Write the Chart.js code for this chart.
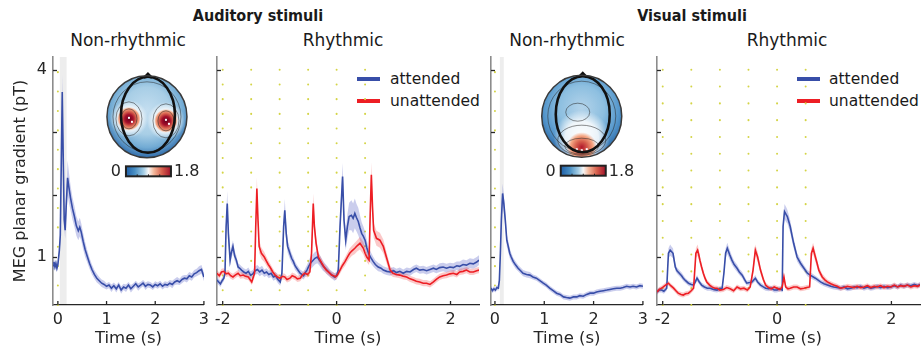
<!DOCTYPE html>
<html>
<head>
<meta charset="utf-8">
<script src="https://cdn.jsdelivr.net/npm/chart.js@4.4.0/dist/chart.umd.min.js"></script>
<style>
  body { margin: 0; width: 922px; height: 352px; position: relative; overflow: hidden; background: #fff;
         font-family: "DejaVu Sans", sans-serif; color: #1a1a1a; }
  canvas { position: absolute; top: 0; }
  .t { position: absolute; white-space: nowrap; line-height: 1; transform: translate(-50%, -50%); }
  .h { font-weight: bold; font-size: 16px; font-family: "DejaVu Sans Condensed", "DejaVu Sans"; font-stretch: condensed; }
  .s { font-size: 17px; }
  .lg { position: absolute; font-size: 15.5px; line-height: 18px; white-space: nowrap; }
  .ln { position: absolute; width: 23px; height: 4px; }
</style>
</head>
<body>
<div class="t h" style="left:258px;top:16px">Auditory stimuli</div>
<div class="t h" style="left:692px;top:16px">Visual stimuli</div>
<div class="t s" style="left:128px;top:40px">Non-rhythmic</div>
<div class="t s" style="left:343px;top:40px">Rhythmic</div>
<div class="t s" style="left:567px;top:40px">Non-rhythmic</div>
<div class="t s" style="left:787px;top:40px">Rhythmic</div>

<div class="ln" style="left:357px;top:77px;background:rgb(56,78,168)"></div>
<div class="lg" style="left:390px;top:70px">attended</div>
<div class="ln" style="left:357px;top:99px;background:rgb(237,30,36)"></div>
<div class="lg" style="left:390px;top:92px">unattended</div>
<div class="ln" style="left:797px;top:77px;background:rgb(56,78,168)"></div>
<div class="lg" style="left:829px;top:70px">attended</div>
<div class="ln" style="left:797px;top:99px;background:rgb(237,30,36)"></div>
<div class="lg" style="left:829px;top:92px">unattended</div>

<canvas id="p1" width="214" height="352" style="left:0px"></canvas>
<canvas id="p2" width="290" height="352" style="left:200px"></canvas>
<canvas id="p3" width="178" height="352" style="left:475px"></canvas>
<canvas id="p4" width="282" height="352" style="left:640px"></canvas>

<script>
const BLUE = 'rgb(56,78,168)'
const RED = 'rgb(237,30,36)'
const BLUE_BAND = 'rgba(90,100,200,0.32)'
const RED_BAND = 'rgba(240,60,60,0.28)'
const DOT = 'rgb(212,212,70)'
const TXT = '#262626'

// y ticks shared by every panel, only 1 and 4 get a label
const yTicks = [1, 2, 3, 4]
const yLabelled = [1, 4]
const xTicksNonRhythmic = [0, 1, 2, 3]
const xTicksRhythmic = [-2, 0, 2]

// stimulus onsets (s) and grey stimulus windows
const cuesNonRhythmic = [0]
const cuesRhythmic = [-2, -1.5, -1, -0.5, 0, 0.5]
const audWindow = [0.04, 0.18]
const visWindow = [0.1, 0.18]

// rows are [time (s), mean (pT), sem]
const audNonRhythmic = [
  [-0.1,0.86,0.06],[-0.08,0.92,0.06],[-0.06,0.84,0.06],[-0.04,0.9,0.06],[-0.02,0.82,0.06],[0,0.88,0.06],
  [0.03,1.1,0.08],[0.05,1.35,0.12],[0.07,2.5,0.2],[0.09,3.65,0.28],[0.11,2.6,0.22],[0.13,1.6,0.14],
  [0.15,1.43,0.14],[0.17,1.8,0.2],[0.2,2.27,0.28],[0.23,2.1,0.24],[0.26,1.95,0.2],[0.3,1.78,0.18],
  [0.34,1.65,0.17],[0.38,1.5,0.16],[0.42,1.42,0.15],[0.45,1.48,0.15],[0.48,1.4,0.14],[0.52,1.25,0.13],
  [0.56,1.12,0.12],[0.6,1.02,0.1],[0.65,0.9,0.09],[0.7,0.8,0.08],[0.75,0.72,0.07],[0.8,0.66,0.07],
  [0.85,0.62,0.06],[0.9,0.58,0.06],[0.95,0.56,0.06],[1,0.53,0.05],[1.05,0.55,0.05],[1.1,0.5,0.06],
  [1.15,0.54,0.05],[1.2,0.49,0.06],[1.25,0.55,0.05],[1.3,0.47,0.06],[1.35,0.52,0.05],[1.4,0.5,0.06],
  [1.45,0.55,0.05],[1.5,0.49,0.06],[1.55,0.53,0.05],[1.6,0.57,0.05],[1.65,0.52,0.06],[1.7,0.55,0.05],
  [1.75,0.58,0.05],[1.8,0.53,0.06],[1.85,0.56,0.05],[1.9,0.55,0.05],[1.95,0.52,0.05],[2,0.56,0.05],
  [2.05,0.54,0.05],[2.1,0.57,0.05],[2.15,0.53,0.05],[2.2,0.56,0.05],[2.25,0.55,0.05],[2.3,0.58,0.05],
  [2.35,0.56,0.06],[2.4,0.6,0.05],[2.45,0.62,0.06],[2.5,0.6,0.05],[2.55,0.64,0.06],[2.6,0.66,0.05],
  [2.65,0.65,0.06],[2.7,0.7,0.06],[2.75,0.68,0.06],[2.8,0.73,0.06],[2.85,0.75,0.06],[2.9,0.78,0.07],
  [2.95,0.8,0.07],[3,0.68,0.07]
]

const audRhythmicAttended = [
  [-2.1,0.63,0.05],[-2.07,0.6,0.05],[-2.04,0.57,0.05],[-2.01,0.62,0.05],[-1.98,0.66,0.05],[-1.96,0.74,0.07],
  [-1.94,1.49,0.15],[-1.92,1.86,0.2],[-1.9,1.38,0.15],[-1.87,0.95,0.1],[-1.85,1.06,0.1],[-1.82,1.17,0.1],
  [-1.79,1.02,0.08],[-1.76,0.95,0.07],[-1.73,0.84,0.06],[-1.7,0.82,0.06],[-1.67,0.79,0.06],[-1.63,0.76,0.06],
  [-1.59,0.74,0.06],[-1.55,0.77,0.06],[-1.51,0.71,0.06],[-1.47,0.73,0.06],[-1.43,0.78,0.07],[-1.39,0.8,0.07],
  [-1.35,0.76,0.07],[-1.31,0.79,0.07],[-1.27,0.74,0.06],[-1.23,0.76,0.06],[-1.19,0.72,0.06],[-1.15,0.74,0.06],
  [-1.11,0.68,0.06],[-1.07,0.7,0.06],[-1.03,0.64,0.06],[-0.99,0.6,0.06],[-0.96,0.74,0.07],[-0.93,1.49,0.14],
  [-0.91,1.75,0.18],[-0.885,1.38,0.14],[-0.86,1.17,0.1],[-0.82,1.06,0.09],[-0.79,0.98,0.08],[-0.76,0.93,0.07],
  [-0.73,0.86,0.07],[-0.7,0.82,0.06],[-0.67,0.78,0.06],[-0.64,0.74,0.06],[-0.61,0.72,0.06],[-0.58,0.7,0.06],
  [-0.55,0.75,0.07],[-0.52,0.79,0.08],[-0.49,0.85,0.09],[-0.46,0.9,0.1],[-0.42,0.94,0.1],[-0.38,0.98,0.1],
  [-0.34,1,0.1],[-0.31,0.96,0.09],[-0.28,0.92,0.09],[-0.24,0.86,0.08],[-0.2,0.82,0.07],[-0.16,0.78,0.07],
  [-0.12,0.74,0.06],[-0.08,0.71,0.06],[-0.04,0.68,0.06],[0,0.7,0.06],[0.03,0.79,0.08],[0.06,1.49,0.16],
  [0.105,2.29,0.22],[0.13,1.59,0.18],[0.16,1.27,0.16],[0.19,1.49,0.2],[0.22,1.65,0.22],[0.26,1.67,0.24],
  [0.29,1.62,0.24],[0.32,1.7,0.24],[0.35,1.63,0.22],[0.38,1.57,0.22],[0.41,1.47,0.2],[0.44,1.38,0.18],
  [0.47,1.33,0.16],[0.5,1.27,0.14],[0.53,1.15,0.12],[0.56,1.06,0.1],[0.6,0.99,0.09],[0.64,0.93,0.08],
  [0.68,0.88,0.07],[0.73,0.84,0.07],[0.78,0.82,0.06],[0.82,0.79,0.06],[0.88,0.77,0.06],[0.94,0.76,0.06],
  [1,0.78,0.06],[1.05,0.75,0.06],[1.11,0.77,0.06],[1.17,0.74,0.06],[1.23,0.77,0.06],[1.29,0.76,0.06],
  [1.35,0.8,0.06],[1.4,0.82,0.06],[1.46,0.79,0.06],[1.52,0.8,0.06],[1.58,0.78,0.06],[1.64,0.8,0.06],
  [1.7,0.82,0.06],[1.75,0.8,0.06],[1.81,0.83,0.07],[1.87,0.84,0.07],[1.93,0.82,0.07],[1.99,0.84,0.07],
  [2.05,0.83,0.07],[2.11,0.86,0.07],[2.16,0.85,0.08],[2.22,0.88,0.08],[2.28,0.87,0.08],[2.34,0.9,0.08],
  [2.4,0.89,0.08],[2.46,0.92,0.08],[2.5,0.95,0.08]
]

const audRhythmicUnattended = [
  [-2.1,0.74,0.05],[-2.06,0.7,0.05],[-2.02,0.76,0.05],[-1.98,0.77,0.05],[-1.94,0.73,0.05],[-1.9,0.74,0.05],
  [-1.86,0.7,0.05],[-1.82,0.68,0.05],[-1.78,0.71,0.05],[-1.73,0.74,0.05],[-1.69,0.7,0.05],[-1.64,0.71,0.05],
  [-1.6,0.69,0.05],[-1.55,0.68,0.05],[-1.52,0.64,0.05],[-1.49,0.6,0.05],[-1.44,0.74,0.07],[-1.42,1.49,0.14],
  [-1.4,2.1,0.18],[-1.38,1.59,0.14],[-1.36,1.17,0.1],[-1.32,1.06,0.09],[-1.27,1,0.08],[-1.23,0.93,0.07],
  [-1.2,0.88,0.07],[-1.17,0.84,0.06],[-1.12,0.76,0.06],[-1.08,0.71,0.05],[-1.04,0.68,0.05],[-0.99,0.66,0.05],
  [-0.95,0.69,0.05],[-0.91,0.68,0.05],[-0.87,0.64,0.05],[-0.82,0.66,0.05],[-0.78,0.7,0.05],[-0.73,0.68,0.05],
  [-0.69,0.65,0.05],[-0.64,0.66,0.05],[-0.6,0.71,0.05],[-0.56,0.74,0.05],[-0.51,0.72,0.05],[-0.47,0.76,0.06],
  [-0.44,1.06,0.1],[-0.41,1.86,0.16],[-0.39,1.49,0.14],[-0.36,1.22,0.1],[-0.32,1,0.08],[-0.29,0.95,0.07],
  [-0.26,0.9,0.07],[-0.22,0.84,0.06],[-0.18,0.79,0.06],[-0.13,0.75,0.05],[-0.09,0.71,0.05],[-0.05,0.7,0.05],
  [-0.02,0.68,0.05],[0.02,0.72,0.05],[0.06,0.79,0.06],[0.1,0.86,0.06],[0.15,0.93,0.07],[0.19,1,0.07],
  [0.23,1.06,0.08],[0.27,1.1,0.08],[0.32,1.14,0.09],[0.36,1.18,0.09],[0.41,1.22,0.1],[0.44,1.18,0.1],
  [0.47,1.14,0.1],[0.5,1.06,0.09],[0.53,1,0.08],[0.57,0.95,0.08],[0.59,1.7,0.16],[0.61,2.32,0.2],
  [0.63,1.81,0.16],[0.65,1.43,0.12],[0.7,1.3,0.12],[0.76,1.27,0.12],[0.82,1.17,0.11],[0.88,0.98,0.09],
  [0.94,0.79,0.07],[0.99,0.74,0.06],[1.05,0.72,0.05],[1.11,0.71,0.05],[1.17,0.69,0.05],[1.23,0.68,0.05],
  [1.29,0.65,0.05],[1.35,0.63,0.05],[1.4,0.61,0.05],[1.46,0.6,0.05],[1.52,0.58,0.05],[1.58,0.58,0.05],
  [1.64,0.56,0.05],[1.7,0.6,0.05],[1.75,0.64,0.05],[1.81,0.68,0.05],[1.87,0.7,0.05],[1.93,0.71,0.05],
  [1.99,0.73,0.05],[2.05,0.74,0.05],[2.11,0.72,0.05],[2.16,0.76,0.05],[2.22,0.77,0.05],[2.28,0.79,0.05],
  [2.34,0.76,0.05],[2.4,0.76,0.05],[2.46,0.78,0.05],[2.5,0.79,0.05]
]

const visNonRhythmic = [
  [-0.08,0.5,0.04],[-0.05,0.46,0.04],[-0.02,0.49,0.04],[0.01,0.47,0.04],[0.04,0.51,0.04],[0.07,0.5,0.04],
  [0.09,0.63,0.05],[0.11,1.06,0.08],[0.13,1.59,0.12],[0.155,2.02,0.16],[0.18,1.86,0.14],[0.21,1.59,0.12],
  [0.24,1.27,0.1],[0.27,1.17,0.09],[0.3,1.06,0.08],[0.33,1,0.07],[0.37,0.93,0.06],[0.42,0.87,0.06],
  [0.47,0.82,0.05],[0.52,0.78,0.05],[0.57,0.74,0.05],[0.64,0.72,0.05],[0.71,0.71,0.05],[0.77,0.68,0.04],
  [0.84,0.66,0.04],[0.91,0.62,0.04],[0.98,0.58,0.04],[1.04,0.55,0.04],[1.11,0.5,0.04],[1.18,0.46,0.04],
  [1.25,0.42,0.04],[1.32,0.4,0.04],[1.39,0.36,0.04],[1.45,0.35,0.04],[1.52,0.34,0.04],[1.59,0.36,0.04],
  [1.66,0.36,0.04],[1.72,0.38,0.04],[1.79,0.37,0.04],[1.86,0.4,0.04],[1.93,0.42,0.04],[2,0.42,0.04],
  [2.06,0.44,0.04],[2.13,0.45,0.04],[2.2,0.46,0.04],[2.27,0.47,0.04],[2.33,0.48,0.04],[2.4,0.49,0.04],
  [2.47,0.5,0.04],[2.54,0.5,0.04],[2.6,0.51,0.04],[2.67,0.53,0.04],[2.74,0.52,0.04],[2.8,0.53,0.04],
  [2.87,0.52,0.04],[2.94,0.54,0.04],[3,0.53,0.04]
]

const visRhythmicAttended = [
  [-2.1,0.44,0.04],[-2.06,0.47,0.04],[-2.02,0.47,0.04],[-1.98,0.45,0.04],[-1.93,0.5,0.04],[-1.9,1.06,0.08],
  [-1.87,1.11,0.09],[-1.84,1.08,0.08],[-1.82,1.06,0.08],[-1.78,0.84,0.06],[-1.75,0.78,0.05],[-1.71,0.74,0.05],
  [-1.67,0.7,0.05],[-1.64,0.66,0.05],[-1.6,0.62,0.04],[-1.55,0.58,0.04],[-1.5,0.56,0.04],[-1.46,0.55,0.04],
  [-1.43,0.6,0.04],[-1.4,0.66,0.05],[-1.36,0.6,0.04],[-1.32,0.55,0.04],[-1.27,0.52,0.04],[-1.22,0.5,0.04],
  [-1.17,0.5,0.04],[-1.11,0.48,0.04],[-1.05,0.47,0.04],[-1,0.49,0.04],[-0.96,0.5,0.04],[-0.93,0.74,0.06],
  [-0.9,1.06,0.08],[-0.87,1.14,0.09],[-0.83,1.04,0.08],[-0.79,0.95,0.07],[-0.75,0.88,0.06],[-0.7,0.82,0.06],
  [-0.66,0.76,0.05],[-0.61,0.71,0.05],[-0.57,0.64,0.05],[-0.53,0.58,0.04],[-0.48,0.59,0.04],[-0.44,0.6,0.04],
  [-0.38,0.66,0.05],[-0.34,0.6,0.04],[-0.29,0.55,0.04],[-0.24,0.52,0.04],[-0.2,0.5,0.04],[-0.15,0.49,0.04],
  [-0.1,0.5,0.04],[-0.05,0.47,0.04],[0,0.47,0.04],[0.05,0.49,0.04],[0.09,0.47,0.04],[0.105,1.49,0.1],
  [0.13,1.73,0.12],[0.16,1.68,0.12],[0.18,1.65,0.11],[0.23,1.49,0.1],[0.26,1.35,0.09],[0.29,1.22,0.08],
  [0.35,1,0.07],[0.41,0.9,0.06],[0.47,0.82,0.05],[0.53,0.74,0.05],[0.58,0.71,0.05],[0.67,0.66,0.04],
  [0.76,0.6,0.04],[0.82,0.57,0.04],[0.88,0.55,0.04],[0.94,0.53,0.04],[0.99,0.52,0.04],[1.05,0.51,0.04],
  [1.11,0.5,0.04],[1.17,0.52,0.04],[1.23,0.49,0.04],[1.29,0.5,0.04],[1.35,0.52,0.04],[1.4,0.51,0.04],
  [1.46,0.53,0.04],[1.52,0.5,0.04],[1.58,0.52,0.04],[1.64,0.5,0.04],[1.7,0.51,0.04],[1.75,0.53,0.04],
  [1.81,0.51,0.04],[1.87,0.53,0.04],[1.93,0.51,0.04],[1.99,0.52,0.04],[2.05,0.54,0.04],[2.11,0.52,0.04],
  [2.16,0.55,0.04],[2.22,0.53,0.04],[2.28,0.55,0.04],[2.34,0.54,0.04],[2.4,0.56,0.04],[2.46,0.54,0.04],
  [2.5,0.56,0.04]
]

const visRhythmicUnattended = [
  [-2.1,0.44,0.04],[-2.06,0.48,0.04],[-2.02,0.5,0.04],[-1.99,0.52,0.04],[-1.95,0.55,0.04],[-1.9,0.58,0.04],
  [-1.86,0.54,0.04],[-1.81,0.5,0.04],[-1.77,0.46,0.04],[-1.73,0.42,0.04],[-1.68,0.4,0.04],[-1.64,0.39,0.04],
  [-1.6,0.41,0.04],[-1.55,0.42,0.04],[-1.51,0.45,0.04],[-1.46,0.5,0.04],[-1.42,1.06,0.08],[-1.39,1.11,0.09],
  [-1.37,1.04,0.08],[-1.35,0.95,0.07],[-1.32,0.84,0.06],[-1.29,0.74,0.05],[-1.26,0.66,0.05],[-1.23,0.6,0.04],
  [-1.18,0.55,0.04],[-1.14,0.52,0.04],[-1.09,0.5,0.04],[-1.05,0.5,0.04],[-1,0.47,0.04],[-0.94,0.48,0.04],
  [-0.88,0.51,0.04],[-0.82,0.49,0.04],[-0.76,0.46,0.04],[-0.7,0.52,0.04],[-0.64,0.49,0.04],[-0.58,0.5,0.04],
  [-0.52,0.47,0.04],[-0.47,0.52,0.04],[-0.42,0.79,0.07],[-0.38,1.11,0.09],[-0.34,1,0.08],[-0.29,0.79,0.06],
  [-0.24,0.64,0.05],[-0.2,0.55,0.04],[-0.15,0.51,0.04],[-0.1,0.49,0.04],[-0.05,0.52,0.04],[0,0.5,0.04],
  [0.05,0.48,0.04],[0.09,0.52,0.04],[0.12,0.68,0.05],[0.15,0.52,0.04],[0.19,0.49,0.04],[0.23,0.5,0.04],
  [0.29,0.52,0.04],[0.35,0.52,0.04],[0.41,0.49,0.04],[0.47,0.5,0.04],[0.52,0.51,0.04],[0.57,0.52,0.04],
  [0.6,1.06,0.08],[0.63,1.14,0.09],[0.67,1,0.08],[0.7,0.9,0.07],[0.73,0.79,0.06],[0.79,0.68,0.05],
  [0.84,0.63,0.05],[0.88,0.6,0.04],[0.94,0.57,0.04],[0.99,0.55,0.04],[1.05,0.53,0.04],[1.11,0.5,0.04],
  [1.17,0.51,0.04],[1.23,0.53,0.04],[1.29,0.52,0.04],[1.35,0.51,0.04],[1.4,0.53,0.04],[1.46,0.51,0.04],
  [1.52,0.52,0.04],[1.58,0.54,0.04],[1.64,0.51,0.04],[1.7,0.53,0.04],[1.75,0.52,0.04],[1.81,0.54,0.04],
  [1.87,0.51,0.04],[1.93,0.53,0.04],[1.99,0.52,0.04],[2.05,0.55,0.04],[2.11,0.52,0.04],[2.16,0.54,0.04],
  [2.22,0.53,0.04],[2.28,0.55,0.04],[2.34,0.52,0.04],[2.4,0.54,0.04],[2.46,0.53,0.04],[2.5,0.55,0.04]
]

Chart.defaults.font.family = '"DejaVu Sans", sans-serif'
Chart.defaults.font.size = 16
Chart.defaults.color = TXT

// helpers for the scalp maps
const ell = (ctx, x, y, rx, ry) => { ctx.beginPath(); ctx.ellipse(x, y, rx, ry, 0, 0, Math.PI * 2) }
const blob = (ctx, x, y, r, stops) => {
  const g = ctx.createRadialGradient(x, y, 0, x, y, r)
  stops.forEach(([o, c]) => g.addColorStop(o, c))
  ctx.fillStyle = g
  ctx.fillRect(x - r, y - r, 2 * r, 2 * r)
}

// draw one scalp topography + its colour bar
const drawTopo = (ctx, cx, cy, kind) => {
  ctx.save()
  ell(ctx, cx, cy, 40, 41)
  ctx.save()
  ctx.clip()
  if (kind === 'aud') {
    blob(ctx, cx, cy - 6, 47, [[0, '#c4def0'], [0.5, '#a8cee6'], [0.78, '#72abd4'], [1, '#2e6aa9']])
    ;[[-18, 2], [19, 4]].forEach(([dx, dy]) => {
      blob(ctx, cx + dx, cy + dy, 19, [[0, 'rgba(255,255,255,1)'], [0.65, 'rgba(255,255,255,0.7)'], [1, 'rgba(255,255,255,0)']])
      blob(ctx, cx + dx, cy + dy, 12, [[0, '#67001f'], [0.35, '#a50f2a'], [0.6, '#d6604d'], [0.85, '#f4a582'], [1, 'rgba(253,219,199,0)']])
    })
  } else {
    blob(ctx, cx, cy - 8, 50, [[0, '#b3d3ea'], [0.45, '#8dbfe0'], [0.75, '#5597cc'], [1, '#24609f']])
    blob(ctx, cx, cy + 22, 28, [[0, 'rgba(255,255,255,1)'], [0.6, 'rgba(255,255,255,0.85)'], [1, 'rgba(255,255,255,0)']])
    blob(ctx, cx, cy + 31, 15, [[0, '#b2182b'], [0.4, '#d6604d'], [0.75, '#f4a582'], [1, 'rgba(244,165,130,0)']])
  }
  // contour lines
  ctx.strokeStyle = 'rgba(40,40,40,0.75)'
  ctx.lineWidth = 0.7
  ell(ctx, cx, cy, 34, 35); ctx.stroke()
  if (kind === 'aud') {
    ;[[-18, 2], [19, 4]].forEach(([dx, dy]) => {
      ell(ctx, cx + dx, cy + dy, 8, 10); ctx.stroke()
      ell(ctx, cx + dx, cy + dy, 13, 17); ctx.stroke()
    })
    ctx.fillStyle = '#fff'
    ;[[-19, 0], [-16, 4], [18, 2], [21, 6]].forEach(([dx, dy]) => ctx.fillRect(cx + dx, cy + dy, 2, 2))
  } else {
    ell(ctx, cx, cy + 30, 17, 8); ctx.stroke()
    ell(ctx, cx, cy + 24, 24, 15); ctx.stroke()
    ell(ctx, cx - 4, cy - 4, 12, 9); ctx.stroke()
    ctx.fillStyle = '#fff'
    ;[[-6, 32], [-1, 33], [4, 32]].forEach(([dx, dy]) => ctx.fillRect(cx + dx, cy + dy, 2, 2))
  }
  ctx.restore()
  // head outline and nose
  ctx.strokeStyle = '#111'
  ctx.lineWidth = 2.6
  ell(ctx, cx + 1, cy - 2, 27, 38); ctx.stroke()
  ctx.beginPath(); ctx.moveTo(cx - 3, cy - 39); ctx.lineTo(cx + 1, cy - 43); ctx.lineTo(cx + 5, cy - 39); ctx.stroke()
  ctx.strokeStyle = '#3a3a3a'
  ctx.lineWidth = 1.5
  ell(ctx, cx, cy, 40, 41); ctx.stroke()

  // colour bar
  const bx = cx - 21, by = cy + 49.5, bw = 45, bh = 10
  const g = ctx.createLinearGradient(bx, 0, bx + bw, 0)
  ;[[0, '#1f5fa8'], [0.2, '#4a90c4'], [0.4, '#a9d0e6'], [0.5, '#f7f7f7'], [0.62, '#f4b79a'], [0.8, '#d6604d'], [1, '#a1112a']]
    .forEach(([o, c]) => g.addColorStop(o, c))
  ctx.fillStyle = g
  ctx.fillRect(bx, by, bw, bh)
  ctx.strokeStyle = '#222'
  ctx.lineWidth = 2
  ctx.strokeRect(bx, by, bw, bh)
  ctx.lineWidth = 1
  ;[0.25, 0.5, 0.75].forEach(f => { ctx.beginPath(); ctx.moveTo(bx + f * bw, by + bh); ctx.lineTo(bx + f * bw, by + bh - 2); ctx.stroke() })
  ctx.fillStyle = TXT
  ctx.font = '16px "DejaVu Sans"'
  ctx.textBaseline = 'middle'
  ctx.textAlign = 'right'
  ctx.fillText('0', bx - 5, by + bh / 2 + 1)
  ctx.textAlign = 'left'
  ctx.fillText('1.8', bx + bw + 3, by + bh / 2 + 1)
  ctx.restore()
}

// grey stimulus window + dotted onset lines, drawn under the traces
const backdrop = (win, cues, gap) => ({
  id: 'backdrop',
  beforeDatasetsDraw(chart) {
    const { ctx, chartArea: a, scales: { x } } = chart
    ctx.save()
    if (win) {
      ctx.fillStyle = 'rgba(0,0,0,0.07)'
      const x0 = x.getPixelForValue(win[0]), x1 = x.getPixelForValue(win[1])
      ctx.fillRect(x0, a.top, x1 - x0, a.bottom - a.top)
    }
    ctx.strokeStyle = DOT
    ctx.lineWidth = 2
    ctx.lineCap = 'round'
    ctx.setLineDash([0.1, gap])
    cues.forEach(c => {
      const px = x.getPixelForValue(c)
      ctx.beginPath(); ctx.moveTo(px, a.bottom); ctx.lineTo(px, a.top + 3); ctx.stroke()
    })
    ctx.restore()
  }
})

// MATLAB style ticks pointing into the plot
const innerTicks = {
  id: 'innerTicks',
  afterDraw(chart) {
    const { ctx, chartArea: a, scales: { x, y } } = chart
    ctx.save()
    ctx.strokeStyle = TXT
    ctx.lineWidth = 1.3
    y.ticks.forEach(t => {
      const py = Math.round(y.getPixelForValue(t.value)) + 0.5
      ctx.beginPath(); ctx.moveTo(a.left, py); ctx.lineTo(a.left + 4, py); ctx.stroke()
    })
    x.ticks.forEach(t => {
      const px = x.getPixelForValue(t.value)
      ctx.beginPath(); ctx.moveTo(px, a.bottom); ctx.lineTo(px, a.bottom - 4); ctx.stroke()
    })
    ctx.restore()
  }
}

const topoPlugin = (at, kind) => ({
  id: 'topo',
  afterDatasetsDraw(chart) {
    const { ctx, scales: { x, y } } = chart
    drawTopo(ctx, x.getPixelForValue(at[0]), y.getPixelForValue(at[1]), kind)
  }
})

// build the datasets: mean lines on top, sem bands underneath
const buildDatasets = series => {
  const n = series.length
  const lines = series.map((s, k) => ({
    data: s.rows.map(r => ({ x: r[0], y: r[1] })),
    borderColor: s.color, borderWidth: 1.6, pointRadius: 0, fill: false, order: n - 1 - k
  }))
  const bands = series.flatMap((s, k) => [
    { data: s.rows.map(r => ({ x: r[0], y: r[1] + r[2] })), borderWidth: 0, borderColor: 'transparent',
      pointRadius: 0, fill: false, order: 10 + n - 1 - k },
    { data: s.rows.map(r => ({ x: r[0], y: r[1] - r[2] })), borderWidth: 0, borderColor: 'transparent',
      pointRadius: 0, fill: '-1', backgroundColor: s.band, order: 10 + n - 1 - k }
  ])
  return [...lines, ...bands]
}

const panel = (id, cfg) => {
  const plugins = [backdrop(cfg.window, cfg.cues, cfg.gap), innerTicks]
  if (cfg.topo) plugins.push(topoPlugin(cfg.topo.at, cfg.topo.kind))
  return new Chart(document.getElementById(id), {
    type: 'line',
    data: { datasets: buildDatasets(cfg.series) },
    plugins,
    options: {
      responsive: false,
      animation: false,
      layout: { padding: { top: 57, right: cfg.padRight, bottom: 0, left: 0 } },
      plugins: { legend: { display: false }, tooltip: { enabled: false } },
      elements: { line: { tension: 0 } },
      scales: {
        x: {
          type: 'linear', min: cfg.xmin, max: cfg.xmax,
          afterBuildTicks: s => { s.ticks = cfg.xTicks.map(v => ({ value: v })) },
          afterFit: s => { s.height = 47 },
          grid: { display: false, drawTicks: false },
          border: { color: TXT, width: 1.3 },
          ticks: { padding: 5, maxRotation: 0, autoSkip: false, callback: v => String(v) },
          title: { display: true, text: 'Time (s)', font: { size: 16.5 }, padding: { top: 0, bottom: 3 } }
        },
        y: {
          type: 'linear', min: 0.23, max: 4.21,
          afterBuildTicks: s => { s.ticks = yTicks.map(v => ({ value: v })) },
          afterFit: s => { s.width = cfg.yWidth },
          grid: { display: false, drawTicks: false },
          border: { color: '#8c8c8c', width: 1.6 },
          ticks: { display: !!cfg.yTitle, padding: 6, callback: v => yLabelled.includes(v) ? String(v) : '' },
          title: { display: !!cfg.yTitle, text: cfg.yTitle || '', padding: { top: 11, bottom: 0 } }
        }
      }
    }
  })
}

panel('p1', {
  xmin: -0.1, xmax: 3, xTicks: xTicksNonRhythmic, yWidth: 53, padRight: 10,
  yTitle: 'MEG planar gradient (pT)', window: audWindow, cues: cuesNonRhythmic, gap: 19.3,
  topo: { at: [1.83, 3.25], kind: 'aud' },
  series: [{ rows: audNonRhythmic, color: BLUE, band: BLUE_BAND }]
})
panel('p2', {
  xmin: -2.1, xmax: 2.5, xTicks: xTicksRhythmic, yWidth: 17, padRight: 11,
  window: null, cues: cuesRhythmic, gap: 14.6,
  series: [
    { rows: audRhythmicAttended, color: BLUE, band: BLUE_BAND },
    { rows: audRhythmicUnattended, color: RED, band: RED_BAND }
  ]
})
panel('p3', {
  xmin: -0.08, xmax: 3, xTicks: xTicksNonRhythmic, yWidth: 16, padRight: 10,
  window: visWindow, cues: cuesNonRhythmic, gap: 19.3,
  topo: { at: [1.76, 3.26], kind: 'vis' },
  series: [{ rows: visNonRhythmic, color: BLUE, band: BLUE_BAND }]
})
panel('p4', {
  xmin: -2.1, xmax: 2.5, xTicks: xTicksRhythmic, yWidth: 17, padRight: 2,
  window: null, cues: cuesRhythmic, gap: 16.7,
  series: [
    { rows: visRhythmicAttended, color: BLUE, band: BLUE_BAND },
    { rows: visRhythmicUnattended, color: RED, band: RED_BAND }
  ]
})
</script>
</body>
</html>
